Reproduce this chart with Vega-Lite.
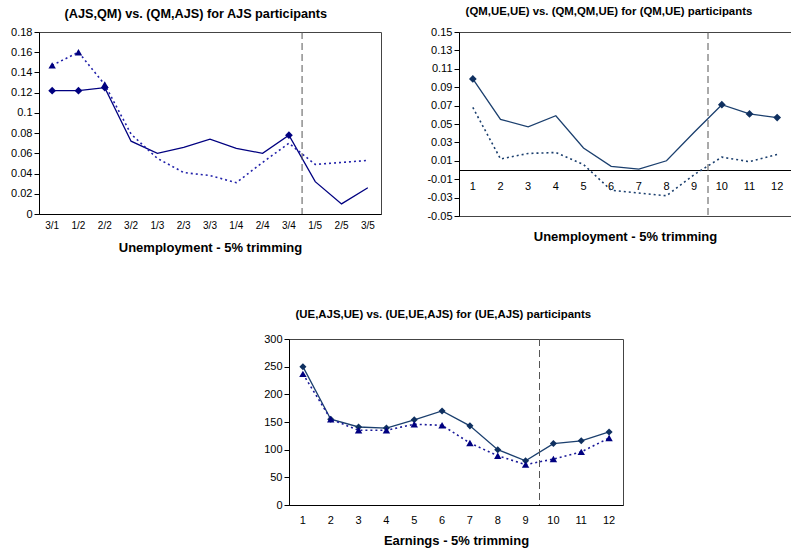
{
  "$schema": "https://vega.github.io/schema/vega-lite/v6.json",
  "background": "white",
  "padding": {"left": 10, "top": 5, "right": 0, "bottom": 0},
  "spacing": 53,
  "config": {
    "font": "Liberation Sans",
    "view": {"stroke": "#444", "strokeWidth": 1},
    "axis": {"domainColor": "#000", "tickColor": "#000", "labelColor": "#000", "titleColor": "#000", "grid": false, "labelFont": "Liberation Sans", "titleFont": "Liberation Sans", "labelFontSize": 11, "titleFontSize": 13, "titleFontWeight": "bold", "labelFontWeight": "normal"},
    "title": {"fontWeight": "bold", "color": "#000", "anchor": "middle", "frame": "bounds", "font": "Liberation Sans"}
  },
  "datasets": {
    "a": [
      {"x": "3/1", "s": "solid", "y": 0.122, "m": true},
      {"x": "1/2", "s": "solid", "y": 0.122, "m": true},
      {"x": "2/2", "s": "solid", "y": 0.125, "m": true},
      {"x": "3/2", "s": "solid", "y": 0.072, "m": false},
      {"x": "1/3", "s": "solid", "y": 0.060, "m": false},
      {"x": "2/3", "s": "solid", "y": 0.066, "m": false},
      {"x": "3/3", "s": "solid", "y": 0.074, "m": false},
      {"x": "1/4", "s": "solid", "y": 0.065, "m": false},
      {"x": "2/4", "s": "solid", "y": 0.060, "m": false},
      {"x": "3/4", "s": "solid", "y": 0.078, "m": true},
      {"x": "1/5", "s": "solid", "y": 0.032, "m": false},
      {"x": "2/5", "s": "solid", "y": 0.010, "m": false},
      {"x": "3/5", "s": "solid", "y": 0.026, "m": false},
      {"x": "3/1", "s": "dotted", "y": 0.147, "m": true},
      {"x": "1/2", "s": "dotted", "y": 0.160, "m": true},
      {"x": "2/2", "s": "dotted", "y": 0.128, "m": true},
      {"x": "3/2", "s": "dotted", "y": 0.079, "m": false},
      {"x": "1/3", "s": "dotted", "y": 0.055, "m": false},
      {"x": "2/3", "s": "dotted", "y": 0.041, "m": false},
      {"x": "3/3", "s": "dotted", "y": 0.038, "m": false},
      {"x": "1/4", "s": "dotted", "y": 0.031, "m": false},
      {"x": "2/4", "s": "dotted", "y": 0.051, "m": false},
      {"x": "3/4", "s": "dotted", "y": 0.070, "m": false},
      {"x": "1/5", "s": "dotted", "y": 0.049, "m": false},
      {"x": "2/5", "s": "dotted", "y": 0.051, "m": false},
      {"x": "3/5", "s": "dotted", "y": 0.053, "m": false}
    ],
    "b": [
      {"x": 1, "s": "solid", "y": 0.099, "m": true},
      {"x": 2, "s": "solid", "y": 0.055, "m": false},
      {"x": 3, "s": "solid", "y": 0.047, "m": false},
      {"x": 4, "s": "solid", "y": 0.059, "m": false},
      {"x": 5, "s": "solid", "y": 0.024, "m": false},
      {"x": 6, "s": "solid", "y": 0.004, "m": false},
      {"x": 7, "s": "solid", "y": 0.001, "m": false},
      {"x": 8, "s": "solid", "y": 0.010, "m": false},
      {"x": 9, "s": "solid", "y": 0.041, "m": false},
      {"x": 10, "s": "solid", "y": 0.071, "m": true},
      {"x": 11, "s": "solid", "y": 0.061, "m": true},
      {"x": 12, "s": "solid", "y": 0.057, "m": true},
      {"x": 1, "s": "dotted", "y": 0.068, "m": false},
      {"x": 2, "s": "dotted", "y": 0.012, "m": false},
      {"x": 3, "s": "dotted", "y": 0.018, "m": false},
      {"x": 4, "s": "dotted", "y": 0.019, "m": false},
      {"x": 5, "s": "dotted", "y": 0.006, "m": false},
      {"x": 6, "s": "dotted", "y": -0.022, "m": false},
      {"x": 7, "s": "dotted", "y": -0.025, "m": false},
      {"x": 8, "s": "dotted", "y": -0.028, "m": false},
      {"x": 9, "s": "dotted", "y": -0.005, "m": false},
      {"x": 10, "s": "dotted", "y": 0.014, "m": false},
      {"x": 11, "s": "dotted", "y": 0.009, "m": false},
      {"x": 12, "s": "dotted", "y": 0.017, "m": false}
    ],
    "c": [
      {"x": 1, "s": "solid", "y": 250, "m": true},
      {"x": 2, "s": "solid", "y": 155, "m": true},
      {"x": 3, "s": "solid", "y": 141, "m": true},
      {"x": 4, "s": "solid", "y": 139, "m": true},
      {"x": 5, "s": "solid", "y": 154, "m": true},
      {"x": 6, "s": "solid", "y": 170, "m": true},
      {"x": 7, "s": "solid", "y": 143, "m": true},
      {"x": 8, "s": "solid", "y": 100, "m": true},
      {"x": 9, "s": "solid", "y": 80, "m": true},
      {"x": 10, "s": "solid", "y": 111, "m": true},
      {"x": 11, "s": "solid", "y": 116, "m": true},
      {"x": 12, "s": "solid", "y": 132, "m": true},
      {"x": 1, "s": "dotted", "y": 237, "m": true},
      {"x": 2, "s": "dotted", "y": 155, "m": true},
      {"x": 3, "s": "dotted", "y": 135, "m": true},
      {"x": 4, "s": "dotted", "y": 135, "m": true},
      {"x": 5, "s": "dotted", "y": 146, "m": true},
      {"x": 6, "s": "dotted", "y": 144, "m": true},
      {"x": 7, "s": "dotted", "y": 112, "m": true},
      {"x": 8, "s": "dotted", "y": 89, "m": true},
      {"x": 9, "s": "dotted", "y": 73, "m": true},
      {"x": 10, "s": "dotted", "y": 83, "m": true},
      {"x": 11, "s": "dotted", "y": 96, "m": true},
      {"x": 12, "s": "dotted", "y": 121, "m": true}
    ]
  },
  "vconcat": [
    {
      "spacing": 44,
      "hconcat": [
        {
          "width": 342,
          "height": 182,
          "title": {"text": "(AJS,QM) vs. (QM,AJS) for AJS participants", "fontSize": 12.7, "offset": 5},
          "layer": [
            {
              "data": {"name": "a"},
              "encoding": {
                "x": {"field": "x", "type": "ordinal", "sort": ["3/1","1/2","2/2","3/2","1/3","2/3","3/3","1/4","2/4","3/4","1/5","2/5","3/5"],
                      "scale": {"type": "band", "paddingInner": 0, "paddingOuter": 0},
                      "axis": {"title": "Unemployment - 5% trimming", "labelAngle": 0, "ticks": false, "labelPadding": 6, "titlePadding": 11, "labelFontSize": 10}},
                "y": {"field": "y", "type": "quantitative", "scale": {"domain": [0, 0.18], "nice": false, "zero": false},
                      "axis": {"title": null, "values": [0,0.02,0.04,0.06,0.08,0.1,0.12,0.14,0.16,0.18], "format": "~g", "tickSize": 5, "labelPadding": 2}}
              },
              "layer": [
                {"transform": [{"filter": "datum.s == 'solid'"}], "mark": {"type": "line", "color": "#000080", "strokeWidth": 1.3}},
                {"transform": [{"filter": "datum.s == 'dotted'"}], "mark": {"type": "line", "color": "#2222aa", "strokeWidth": 1.6, "strokeDash": [2, 3]}},
                {"transform": [{"filter": "datum.s == 'solid' && datum.m"}], "mark": {"type": "point", "shape": "diamond", "filled": true, "color": "#000080", "size": 60, "opacity": 1}},
                {"transform": [{"filter": "datum.s == 'dotted' && datum.m"}], "mark": {"type": "point", "shape": "triangle-up", "filled": true, "color": "#000080", "size": 55, "opacity": 1}}
              ]
            },
            {
              "data": {"values": [{}]},
              "mark": {"type": "rule", "color": "#555", "strokeDash": [7, 4], "strokeWidth": 1},
              "encoding": {"x": {"datum": "3/4", "type": "ordinal", "bandPosition": 1}}
            }
          ]
        },
        {
          "width": 332,
          "height": 184,
          "title": {"text": "(QM,UE,UE) vs. (QM,QM,UE) for (QM,UE) participants", "fontSize": 11.4, "offset": 9},
          "layer": [
            {
              "data": {"name": "b"},
              "encoding": {
                "x": {"field": "x", "type": "ordinal", "sort": [1,2,3,4,5,6,7,8,9,10,11,12],
                      "scale": {"type": "band", "paddingInner": 0, "paddingOuter": 0},
                      "axis": {"title": "Unemployment - 5% trimming", "labelAngle": 0, "ticks": false, "offset": -46, "labelPadding": 10, "titlePadding": 39}},
                "y": {"field": "y", "type": "quantitative", "scale": {"domain": [-0.05, 0.15], "nice": false, "zero": false},
                      "axis": {"title": null, "values": [-0.05,-0.03,-0.01,0.01,0.03,0.05,0.07,0.09,0.11,0.13,0.15], "labelExpr": "datum.value < 0 ? '-' + format(-datum.value, '.2f') : format(datum.value, '.2f')", "tickSize": 5, "labelPadding": 2}}
              },
              "layer": [
                {"transform": [{"filter": "datum.s == 'solid'"}], "mark": {"type": "line", "color": "#1b3f6e", "strokeWidth": 1.3}},
                {"transform": [{"filter": "datum.s == 'dotted'"}], "mark": {"type": "line", "color": "#1b3f6e", "strokeWidth": 1.6, "strokeDash": [2, 3]}},
                {"transform": [{"filter": "datum.s == 'solid' && datum.m"}], "mark": {"type": "point", "shape": "diamond", "filled": true, "color": "#0f3060", "size": 60, "opacity": 1}}
              ]
            },
            {
              "data": {"values": [{}]},
              "mark": {"type": "rule", "color": "#555", "strokeDash": [7, 4], "strokeWidth": 1},
              "encoding": {"x": {"datum": 9, "type": "ordinal", "bandPosition": 1}}
            }
          ]
        }
      ]
    },
    {
      "spacing": 20,
      "hconcat": [
        {
          "width": 204,
          "height": 10,
          "view": {"stroke": null},
          "data": {"values": []},
          "mark": "point"
        },
        {
          "width": 334,
          "height": 166,
          "title": {"text": "(UE,AJS,UE) vs. (UE,UE,AJS) for (UE,AJS) participants", "fontSize": 11.4, "offset": 13},
          "layer": [
            {
              "data": {"name": "c"},
              "encoding": {
                "x": {"field": "x", "type": "ordinal", "sort": [1,2,3,4,5,6,7,8,9,10,11,12],
                      "scale": {"type": "band", "paddingInner": 0, "paddingOuter": 0},
                      "axis": {"title": "Earnings - 5% trimming", "labelAngle": 0, "ticks": false, "labelPadding": 9, "titlePadding": 9}},
                "y": {"field": "y", "type": "quantitative", "scale": {"domain": [0, 300], "nice": false, "zero": false},
                      "axis": {"title": null, "values": [0,50,100,150,200,250,300], "tickSize": 5, "labelPadding": 2}}
              },
              "layer": [
                {"transform": [{"filter": "datum.s == 'solid'"}], "mark": {"type": "line", "color": "#1b3f6e", "strokeWidth": 1.3}},
                {"transform": [{"filter": "datum.s == 'dotted'"}], "mark": {"type": "line", "color": "#1a1a99", "strokeWidth": 1.6, "strokeDash": [2, 3]}},
                {"transform": [{"filter": "datum.s == 'solid' && datum.m"}], "mark": {"type": "point", "shape": "diamond", "filled": true, "color": "#0f3060", "size": 50, "opacity": 1}},
                {"transform": [{"filter": "datum.s == 'dotted' && datum.m"}], "mark": {"type": "point", "shape": "triangle-up", "filled": true, "color": "#000080", "size": 55, "opacity": 1}}
              ]
            },
            {
              "data": {"values": [{}]},
              "mark": {"type": "rule", "color": "#555", "strokeDash": [7, 4], "strokeWidth": 1},
              "encoding": {"x": {"datum": 9, "type": "ordinal", "bandPosition": 1}}
            }
          ]
        }
      ]
    }
  ]
}
